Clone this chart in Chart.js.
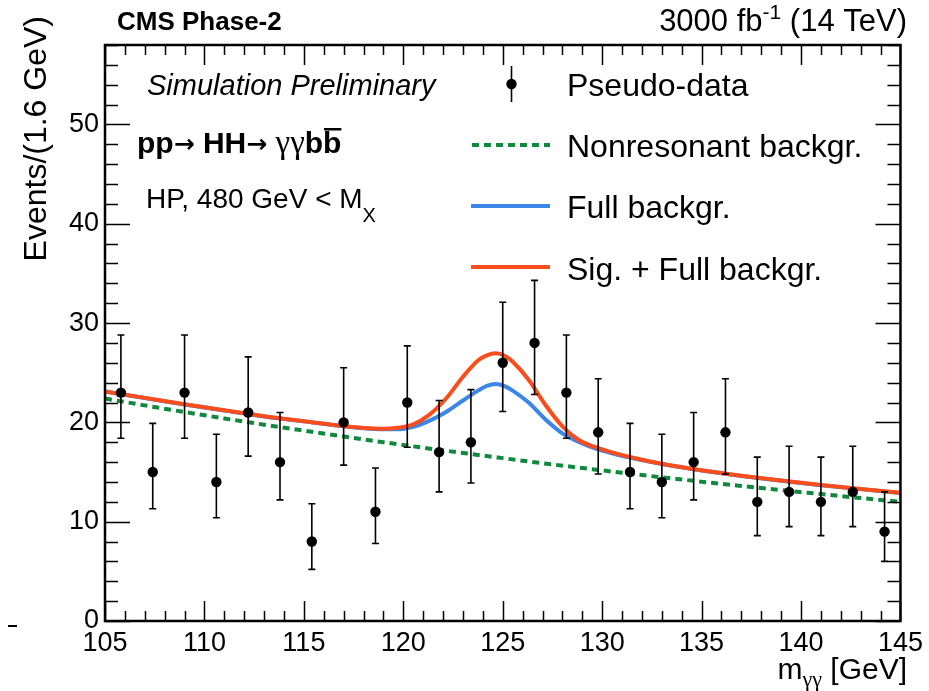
<!DOCTYPE html>
<html>
<head>
<meta charset="utf-8">
<script src="https://cdn.jsdelivr.net/npm/chart.js@4.4.1/dist/chart.umd.min.js"></script>
<style>
  html, body { margin: 0; padding: 0; background: #fff; }
  canvas { display: block; }
</style>
</head>
<body>
<canvas id="c" width="929" height="691"></canvas>
<script>
// Diphoton invariant mass spectrum, 1.6 GeV bins between 105 and 145 GeV
const binCenters = [105.8, 107.4, 109.0, 110.6, 112.2, 113.8, 115.4, 117.0, 118.6, 120.2,
                    121.8, 123.4, 125.0, 126.6, 128.2, 129.8, 131.4, 133.0, 134.6, 136.2,
                    137.8, 139.4, 141.0, 142.6, 144.2];
const counts   = [23, 15, 23, 14, 21, 16, 8, 20, 11, 22,
                  17, 18, 26, 28, 23, 19, 15, 14, 16, 19,
                  12, 13, 12, 13, 9];
const errLow   = [18.4, 11.3, 18.4, 10.4, 16.6, 12.2, 5.2, 15.7, 7.8, 17.5,
                  13.0, 13.9, 21.1, 22.8, 18.4, 14.8, 11.3, 10.4, 12.2, 14.8,
                  8.6, 9.5, 8.6, 9.5, 6.0];
const errHigh  = [28.8, 19.9, 28.8, 18.8, 26.6, 21.0, 11.8, 25.5, 15.4, 27.7,
                  22.2, 23.3, 32.1, 34.3, 28.8, 24.4, 19.9, 18.8, 21.0, 24.4,
                  16.5, 17.6, 16.5, 17.6, 13.0];

// Nonresonant background shape
const nonresX = [105, 107, 109, 111, 113, 115, 117, 119, 121, 123, 125,
                 127, 129, 131, 133, 135, 137, 139, 141, 143, 145];
const nonresY = [22.4, 21.71, 21.04, 20.4, 19.77, 19.17, 18.58, 18.0, 17.45, 16.92, 16.4,
                 15.89, 15.4, 14.93, 14.47, 14.03, 13.6, 13.18, 12.78, 12.38, 12.0];

// Full background and signal + full background curves (shared abscissae)
const curveX   = [105, 107, 109, 111, 113, 115, 117, 118, 119, 119.7, 120.5, 121.3, 122.15,
                  123.0, 123.8, 124.2, 124.65, 125.1, 125.5, 126.3, 127.15, 128.0, 128.8,
                  129.6, 130.45, 131.5, 133, 135, 137, 139, 141, 143, 145];
const fullBkgY = [23.1, 22.45, 21.8, 21.2, 20.6, 20.1, 19.6, 19.4, 19.3, 19.3, 19.55, 20.15, 21.05,
                  22.2, 23.25, 23.68, 23.87, 23.65, 23.2, 22.0, 20.3, 18.9, 18.05,
                  17.4, 16.9, 16.4, 15.8, 15.15, 14.6, 14.12, 13.68, 13.28, 12.9];
const sigBkgY  = [23.12, 22.47, 21.82, 21.22, 20.62, 20.12, 19.63, 19.44, 19.36, 19.45, 19.8, 20.75, 22.4,
                  24.6, 26.3, 26.75, 26.95, 26.7, 26.1, 24.3, 21.75, 19.6, 18.25,
                  17.55, 17.0, 16.46, 15.83, 15.17, 14.62, 14.14, 13.7, 13.3, 12.92];

const xTicks = [105, 110, 115, 120, 125, 130, 135, 140, 145];
const yTicks = [0, 10, 20, 30, 40, 50];
const xMinorStep = 1;
const yMinorStep = 2;

const SANS = "'Liberation Sans', Arial, Helvetica, sans-serif";
const SERIF = "'Liberation Serif', 'DejaVu Serif', serif";
const ARROW = "'DejaVu Sans', sans-serif";

const GREEN = '#0f8a3c';
const BLUE = '#3b86e6';
const RED = '#fb4c1c';

const pts = (xs, ys) => xs.map((x, i) => ({ x: x, y: ys[i] }));

// White page background
const background = {
  id: 'background',
  beforeDraw(chart) {
    const ctx = chart.ctx;
    ctx.save();
    ctx.fillStyle = '#fff';
    ctx.fillRect(0, 0, chart.width, chart.height);
    ctx.restore();
  }
};

// Vertical error bars with small caps, drawn just before the markers
const errorBars = {
  id: 'errorBars',
  beforeDatasetDraw(chart, args) {
    if (chart.data.datasets[args.index].label !== 'Pseudo-data') return;
    const ctx = chart.ctx, xs = chart.scales.x, ys = chart.scales.y;
    ctx.save();
    ctx.strokeStyle = '#000';
    ctx.lineWidth = 1.6;
    binCenters.forEach((c, i) => {
      const px = xs.getPixelForValue(c);
      const y1 = ys.getPixelForValue(errLow[i]);
      const y2 = ys.getPixelForValue(errHigh[i]);
      ctx.beginPath();
      ctx.moveTo(px, y1); ctx.lineTo(px, y2);
      ctx.moveTo(px - 3.5, y1); ctx.lineTo(px + 3.5, y1);
      ctx.moveTo(px - 3.5, y2); ctx.lineTo(px + 3.5, y2);
      ctx.stroke();
    });
    ctx.restore();
  }
};

// Frame with inward ticks on all four sides
const frame = {
  id: 'frame',
  afterDraw(chart) {
    const ctx = chart.ctx, a = chart.chartArea, xs = chart.scales.x, ys = chart.scales.y;
    ctx.save();
    ctx.strokeStyle = '#000';
    ctx.lineWidth = 1.5;
    ctx.beginPath();
    for (let v = xs.min; v <= xs.max + 1e-9; v += xMinorStep) {
      const major = xTicks.some(t => Math.abs(t - v) < 1e-6);
      const len = major ? 20 : 10;
      const px = Math.round(xs.getPixelForValue(v)) + 0.5;
      ctx.moveTo(px, a.bottom); ctx.lineTo(px, a.bottom - len);
      ctx.moveTo(px, a.top); ctx.lineTo(px, a.top + len);
    }
    for (let v = ys.min; v <= ys.max + 1e-9; v += yMinorStep) {
      const major = yTicks.some(t => Math.abs(t - v) < 1e-6);
      const len = major ? 25 : 13;
      const py = Math.round(ys.getPixelForValue(v)) + 0.5;
      ctx.moveTo(a.left, py); ctx.lineTo(a.left + len, py);
      ctx.moveTo(a.right, py); ctx.lineTo(a.right - len, py);
    }
    ctx.stroke();
    ctx.lineWidth = 2.5;
    ctx.strokeRect(a.left, a.top, a.right - a.left, a.bottom - a.top);
    // small stray dash at the lower left margin
    ctx.lineWidth = 2;
    ctx.beginPath();
    ctx.moveTo(8, 626); ctx.lineTo(17, 626);
    ctx.stroke();
    ctx.restore();
  }
};

// Draws a run of text pieces [text, font, dy] starting at x on baseline y
function drawRuns(ctx, x, y, runs, align) {
  let total = 0;
  runs.forEach(r => { ctx.font = r[1]; total += ctx.measureText(r[0]).width; });
  let cx = align === 'right' ? x - total : x;
  const spans = [];
  runs.forEach(r => {
    ctx.font = r[1];
    const w = ctx.measureText(r[0]).width;
    ctx.textAlign = 'left';
    ctx.fillText(r[0], cx, y + (r[2] || 0));
    spans.push([cx, w]);
    cx += w;
  });
  return spans;
}

// Header, axis titles, annotations and legend
const texts = {
  id: 'texts',
  afterDraw(chart) {
    const ctx = chart.ctx;
    ctx.save();
    ctx.fillStyle = '#000';
    ctx.textBaseline = 'alphabetic';

    ctx.textAlign = 'left';
    ctx.font = `bold 26px ${SANS}`;
    ctx.fillText('CMS Phase-2', 117, 30);

    drawRuns(ctx, 907, 31, [
      ['3000 fb', `31px ${SANS}`, 0],
      ['-1', `21px ${SANS}`, -12],
      [' (14 TeV)', `31px ${SANS}`, 0]
    ], 'right');

    // y-axis title
    ctx.save();
    ctx.translate(46, 16);
    ctx.rotate(-Math.PI / 2);
    ctx.textAlign = 'right';
    ctx.font = `32px ${SANS}`;
    ctx.fillText('Events/(1.6 GeV)', 0, 0);
    ctx.restore();

    // x-axis title
    drawRuns(ctx, 907, 679, [
      ['m', `30px ${SANS}`, 0],
      ['\u03b3\u03b3', `22px ${SERIF}`, 7],
      [' [GeV]', `30px ${SANS}`, 0]
    ], 'right');

    // annotations
    ctx.textAlign = 'left';
    ctx.font = `italic 29px ${SANS}`;
    ctx.fillText('Simulation Preliminary', 147, 95);

    const spans = drawRuns(ctx, 137, 153, [
      ['pp', `bold 30px ${SANS}`, 0],
      ['\u2192', `bold 25px ${ARROW}`, -1],
      [' HH', `bold 30px ${SANS}`, 0],
      ['\u2192', `bold 25px ${ARROW}`, -1],
      [' ', `bold 30px ${SANS}`, 0],
      ['\u03b3\u03b3', `33px ${SERIF}`, 0],
      ['b', `bold 30px ${SANS}`, 0],
      ['b', `bold 30px ${SANS}`, 0]
    ]);
    const last = spans[spans.length - 1];
    ctx.fillRect(last[0] + 1, 128, last[1] - 1, 2.5);

    drawRuns(ctx, 146, 208, [
      ['HP, 480 GeV < M', `28px ${SANS}`, 0],
      ['X', `20px ${SANS}`, 14]
    ]);

    // legend
    const lx1 = 472, lx2 = 550, tx = 567;
    ctx.strokeStyle = '#000';
    ctx.lineWidth = 1.6;
    ctx.beginPath();
    ctx.moveTo(511.5, 66); ctx.lineTo(511.5, 102);
    ctx.stroke();
    ctx.beginPath();
    ctx.arc(511.5, 84, 5.2, 0, Math.PI * 2);
    ctx.fill();

    ctx.lineWidth = 4;
    ctx.strokeStyle = GREEN;
    ctx.setLineDash([7, 5]);
    ctx.beginPath(); ctx.moveTo(lx1, 145); ctx.lineTo(lx2, 145); ctx.stroke();
    ctx.setLineDash([]);
    ctx.strokeStyle = BLUE;
    ctx.beginPath(); ctx.moveTo(lx1 - 1, 206); ctx.lineTo(lx2, 206); ctx.stroke();
    ctx.strokeStyle = RED;
    ctx.beginPath(); ctx.moveTo(lx1 - 1, 267); ctx.lineTo(lx2, 267); ctx.stroke();

    ctx.font = `32px ${SANS}`;
    ctx.fillText('Pseudo-data', tx, 96);
    ctx.fillText('Nonresonant backgr.', tx, 157);
    ctx.fillText('Full backgr.', tx, 218);
    ctx.fillText('Sig. + Full backgr.', tx, 280);
    ctx.restore();
  }
};

new Chart(document.getElementById('c'), {
  type: 'scatter',
  data: {
    datasets: [
      {
        label: 'Pseudo-data',
        data: pts(binCenters, counts),
        pointRadius: 5.2,
        pointBackgroundColor: '#000',
        pointBorderWidth: 0,
        showLine: false,
        order: 0
      },
      {
        label: 'Sig. + Full backgr.',
        data: pts(curveX, sigBkgY),
        showLine: true,
        borderColor: RED,
        borderWidth: 4,
        pointRadius: 0,
        cubicInterpolationMode: 'monotone',
        order: 1
      },
      {
        label: 'Full backgr.',
        data: pts(curveX, fullBkgY),
        showLine: true,
        borderColor: BLUE,
        borderWidth: 4,
        pointRadius: 0,
        cubicInterpolationMode: 'monotone',
        order: 2
      },
      {
        label: 'Nonresonant backgr.',
        data: pts(nonresX, nonresY),
        showLine: true,
        borderColor: GREEN,
        borderWidth: 4,
        borderDash: [7, 5],
        pointRadius: 0,
        cubicInterpolationMode: 'monotone',
        order: 3
      }
    ]
  },
  options: {
    responsive: false,
    animation: false,
    devicePixelRatio: 1,
    layout: { padding: { left: 0, right: 24, top: 45, bottom: 30 } },
    plugins: { legend: { display: false }, tooltip: { enabled: false } },
    scales: {
      x: {
        type: 'linear',
        min: 105, max: 145,
        afterBuildTicks: s => { s.ticks = xTicks.map(v => ({ value: v })); },
        afterFit: s => { s.height = 40; },
        grid: { display: false, drawTicks: false },
        border: { display: false },
        ticks: { color: '#000', padding: 6, maxRotation: 0, autoSkip: false,
                 font: { family: SANS, size: 27 } }
      },
      y: {
        type: 'linear',
        min: 0, max: 58,
        afterBuildTicks: s => { s.ticks = yTicks.map(v => ({ value: v })); },
        afterFit: s => { s.width = 105; },
        grid: { display: false, drawTicks: false },
        border: { display: false },
        ticks: { color: '#000', padding: 6, autoSkip: false,
                 font: { family: SANS, size: 27 } }
      }
    }
  },
  plugins: [background, errorBars, frame, texts]
});
</script>
</body>
</html>
